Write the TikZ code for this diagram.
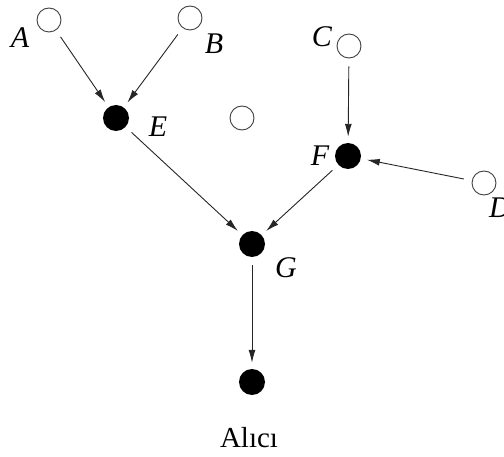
\documentclass[tikz,border=0pt]{standalone}
\usepackage{fontspec}
\setmainfont{Liberation Serif}
\usetikzlibrary{arrows.meta}
\begin{document}
\begin{tikzpicture}[x=1pt,y=-1pt,
  open/.style={circle,draw=black!75,line width=0.9pt,minimum size=24pt,inner sep=0pt},
  full/.style={circle,fill=black,minimum size=26pt,inner sep=0pt},
  lbl/.style={font=\fontsize{30}{30}\selectfont\itshape,inner sep=0pt},
  edge/.style={-{Latex[length=13pt,width=7pt]},line width=0.9pt,black!85,shorten <=8pt,shorten >=6pt}]
\useasboundingbox (0,0) rectangle (504,457);
\node[open] (A) at (49,20) {};
\node[open] (B) at (190,18) {};
\node[full] (E) at (116,118) {};
\node[open] (X) at (242,118) {};
\node[open] (C) at (349,46) {};
\node[full] (F) at (348,156) {};
\node[open] (D) at (484,183) {};
\node[full] (G) at (252,244) {};
\node[full] (H) at (252,382) {};
\node[lbl] (lA) at (20,38) {A};
\node[lbl] (lB) at (214,44) {B};
\node[lbl] (lE) at (158,127) {E};
\node[lbl] (lC) at (322,37) {C};
\node[lbl] (lF) at (320,156) {F};
\node[lbl] (lD) at (500,208) {D};
\node[lbl] (lG) at (286,268) {G};
\node[font=\fontsize{29}{29}\selectfont,inner sep=0pt] (recv) at (249,438) {Alıcı};
\draw[edge] (A) -- (E);
\draw[edge] (B) -- (E);
\draw[edge] (C) -- (F);
\draw[edge] (D) -- (F);
\draw[edge] (E) -- (G);
\draw[edge] (F) -- (G);
\draw[edge] (G) -- (H);
\end{tikzpicture}
\end{document}
